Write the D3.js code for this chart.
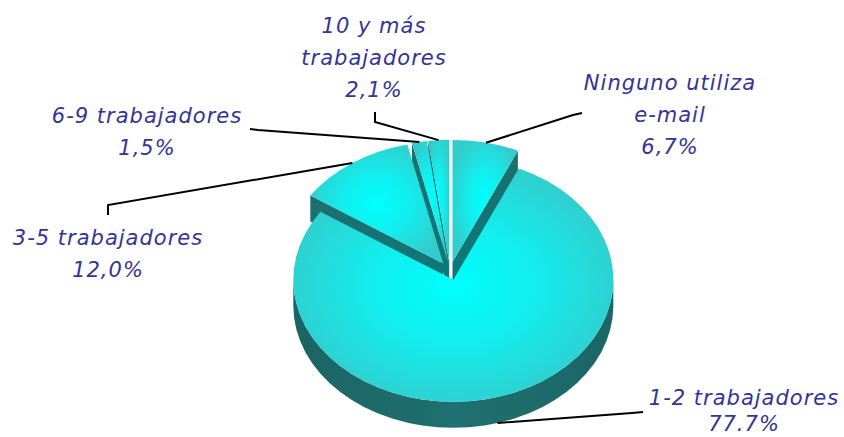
<!DOCTYPE html>
<html><head><meta charset="utf-8">
<script src="https://cdn.jsdelivr.net/npm/d3@7"></script>
<style>body{margin:0;background:#fff;overflow:hidden}</style>
</head><body><svg id="c" width="844" height="437"></svg>
<script>
// ---- data ----
const categories = ["Ninguno utiliza e-mail","1-2 trabajadores","3-5 trabajadores","6-9 trabajadores","10 y más trabajadores"];
const values = [6.7, 77.7, 12.0, 1.5, 2.1];
const valueLabels = ["6,7%","77.7%","12,0%","1,5%","2,1%"];
const labelLines = [["Ninguno utiliza","e-mail"],["1-2 trabajadores"],["3-5 trabajadores"],["6-9 trabajadores"],["10 y más","trabajadores"]];

// ---- layout ----
const labelPos = [[670,90],[744,405],[108,245],[147,123],[374,33]];
const lineGap = [32,26,32,32,32];
const elbows = [[[582,113],[573,115]],[[643,412],[632,413]],[[108,215],[108,205]],[[250,129],[258,130]],[[375,112],[375,122]]];
const geo = {cx:450, cy:271, rx:160, ry:122, depth:26, explode:12};

const svg = d3.select("#c");
const defs = svg.append("defs");

const pie = d3.pie().sort(null).value(d=>d);
const arcs = pie(values);

function off(s){
  const m=(s.startAngle+s.endAngle)/2;
  return [geo.explode*Math.sin(m), -geo.explode*(geo.ry/geo.rx)*Math.cos(m)];
}
function P(s,a,z,r){
  r = r===undefined?1:r;
  const o=off(s);
  return [geo.cx+o[0]+geo.rx*r*Math.sin(a), geo.cy+o[1]-geo.ry*r*Math.cos(a)+z];
}

// gradients
const rimG = defs.append("linearGradient").attr("id","rim").attr("x1","0").attr("x2","1").attr("y1","0").attr("y2","0");
rimG.append("stop").attr("offset","0").attr("stop-color","#1b6464");
rimG.append("stop").attr("offset","0.5").attr("stop-color","#1f7070");
rimG.append("stop").attr("offset","1").attr("stop-color","#1b6666");
const cutG = defs.append("linearGradient").attr("id","cut").attr("x1","0").attr("x2","0").attr("y1","0").attr("y2","1");
cutG.append("stop").attr("offset","0").attr("stop-color","#1e6e6e");
cutG.append("stop").attr("offset","1").attr("stop-color","#0a7a7a");

arcs.forEach((s,i)=>{
  const g = defs.append("radialGradient").attr("id","top"+i).attr("cx","50%").attr("cy","50%").attr("r","55%");
  g.append("stop").attr("offset","0").attr("stop-color","#00ffff");
  g.append("stop").attr("offset","0.45").attr("stop-color","#12eeee");
  g.append("stop").attr("offset","1").attr("stop-color","#33cccc");
});

const order = arcs.map((s,i)=>i).sort((a,b)=>{
  const ma=(arcs[a].startAngle+arcs[a].endAngle)/2, mb=(arcs[b].startAngle+arcs[b].endAngle)/2;
  return (-Math.cos(ma)) - (-Math.cos(mb));
});

const gPie = svg.append("g");
const D = geo.depth;
order.forEach(i=>{
  const s = arcs[i];
  const a0=s.startAngle, a1=s.endAngle;
  const c0=P(s,0,0,0), c1=P(s,0,D,0);
  [[a0, a0-Math.PI/2],[a1, a1+Math.PI/2]].forEach(([a,n])=>{
    if (Math.cos(n) < -1e-6){
      const t=P(s,a,0), b=P(s,a,D);
      gPie.append("path").attr("d",`M${c0}L${t}L${b}L${c1}Z`).attr("fill","url(#cut)");
    }
  });
  const r0=Math.max(a0,Math.PI/2), r1=Math.min(a1,3*Math.PI/2);
  if (r1>r0){
    const t0=P(s,r0,0), t1=P(s,r1,0), b1=P(s,r1,D), b0=P(s,r0,D);
    const lg = (r1-r0)>Math.PI?1:0;
    gPie.append("path").attr("d",`M${t0}A${geo.rx},${geo.ry} 0 ${lg} 1 ${t1}L${b1}A${geo.rx},${geo.ry} 0 ${lg} 0 ${b0}Z`).attr("fill","url(#rim)");
  }
  const p0=P(s,a0,0), p1=P(s,a1,0);
  const lg=(a1-a0)>Math.PI?1:0;
  gPie.append("path").attr("d",`M${c0}L${p0}A${geo.rx},${geo.ry} 0 ${lg} 1 ${p1}Z`).attr("fill",`url(#top${i})`);
});

// leader lines
const line = d3.line();
arcs.forEach((s,i)=>{
  const m=(s.startAngle+s.endAngle)/2;
  const front = Math.cos(m) < 0;
  const anchor = P(s,m,front?D:0);
  svg.append("path").attr("d", line([...elbows[i], anchor]))
    .attr("fill","none").attr("stroke","#000").attr("stroke-width",2);
});

// labels
arcs.forEach((s,i)=>{
  const lines=[...labelLines[i], valueLabels[i]];
  const t = svg.append("text").attr("text-anchor","middle")
    .attr("font-family","'DejaVu Sans', Verdana, sans-serif")
    .attr("font-style","italic").attr("font-size",21)
    .attr("letter-spacing","1px").attr("fill","#333399");
  lines.forEach((L,k)=>{
    t.append("tspan").attr("x",labelPos[i][0]).attr("y",labelPos[i][1]+k*lineGap[i]).text(L);
  });
});
</script></body></html>
